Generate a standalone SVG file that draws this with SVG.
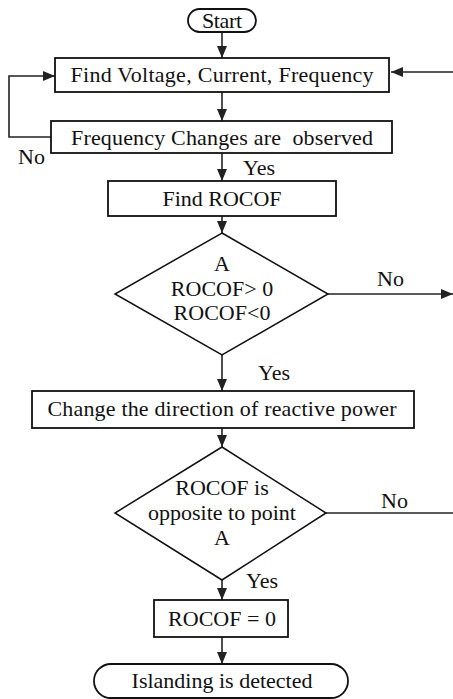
<svg xmlns="http://www.w3.org/2000/svg" width="453" height="699" viewBox="0 0 453 699">
<defs>
<style>
.box{fill:#fff;stroke:#111;stroke-width:1.8}
.dia{fill:#fff;stroke:#111;stroke-width:1.5}
.t{font-family:"Liberation Serif","Times New Roman",serif;font-size:22px;fill:#111;text-anchor:middle}
.l{font-family:"Liberation Serif","Times New Roman",serif;font-size:22px;fill:#111}
.c{fill:none;stroke:#222;stroke-width:1.6}
</style>
<marker id="ah" markerUnits="userSpaceOnUse" markerWidth="12" markerHeight="10" refX="12" refY="5" orient="auto">
<path d="M0,0 L12,5 L0,10 Z" fill="#222"/>
</marker>
</defs>
<rect width="453" height="699" fill="#fff"/>
<g id="connectors">
<path class="c" d="M222,32 V58" marker-end="url(#ah)"/>
<path class="c" d="M453,72 H391" marker-end="url(#ah)"/>
<path class="c" d="M51,137 H9 V76 H55" marker-end="url(#ah)"/>
<path class="c" d="M222,92 V121" marker-end="url(#ah)"/>
<path class="c" d="M222,153 V181" marker-end="url(#ah)"/>
<path class="c" d="M222,216 V233" marker-end="url(#ah)"/>
<path class="c" d="M328,294 H453" marker-end="url(#ah)"/>
<path class="c" d="M222,355 V391" marker-end="url(#ah)"/>
<path class="c" d="M222,428 V447" marker-end="url(#ah)"/>
<path class="c" d="M326,513 H453"/>
<path class="c" d="M222,580 V600" marker-end="url(#ah)"/>
<path class="c" d="M222,637 V664" marker-end="url(#ah)"/>
<text class="l" x="18" y="164">No</text>
<text class="l" x="243" y="175">Yes</text>
<text class="l" x="377" y="286">No</text>
<text class="l" x="258" y="380">Yes</text>
<text class="l" x="381" y="508">No</text>
<text class="l" x="246" y="588">Yes</text>
</g>
<g id="start">
<rect class="box" x="188" y="9" width="68" height="23" rx="11.5"/>
<text class="t" x="222" y="28" textLength="40">Start</text>
</g>
<g id="find-vcf">
<rect class="box" x="55" y="58" width="334" height="34"/>
<text class="t" x="222" y="82" textLength="303">Find Voltage, Current, Frequency</text>
</g>
<g id="freq-changes">
<rect class="box" x="51" y="121" width="341" height="32"/>
<text class="t" x="222" y="145" xml:space="preserve" textLength="302">Frequency Changes are  observed</text>
</g>
<g id="find-rocof">
<rect class="box" x="108" y="181" width="228" height="35"/>
<text class="t" x="222" y="206">Find ROCOF</text>
</g>
<g id="decision-a">
<polygon class="dia" points="222,233 328,294 222,355 115,294"/>
<text class="t" x="222" y="271">A</text>
<text class="t" x="222" y="296">ROCOF&gt; 0</text>
<text class="t" x="222" y="320">ROCOF&lt;0</text>
</g>
<g id="change-direction">
<rect class="box" x="32" y="391" width="382" height="37"/>
<text class="t" x="222" y="416" textLength="349">Change the direction of reactive power</text>
</g>
<g id="decision-opposite">
<polygon class="dia" points="222,447 326,513 222,580 115,513"/>
<text class="t" x="222" y="495">ROCOF is</text>
<text class="t" x="222" y="520">opposite to point</text>
<text class="t" x="222" y="545">A</text>
</g>
<g id="rocof-zero">
<rect class="box" x="154" y="600" width="134" height="37"/>
<text class="t" x="222" y="626">ROCOF = 0</text>
</g>
<g id="islanding">
<rect class="box" x="94" y="664" width="254" height="34" rx="17"/>
<text class="t" x="222" y="688">Islanding is detected</text>
</g>
</svg>
